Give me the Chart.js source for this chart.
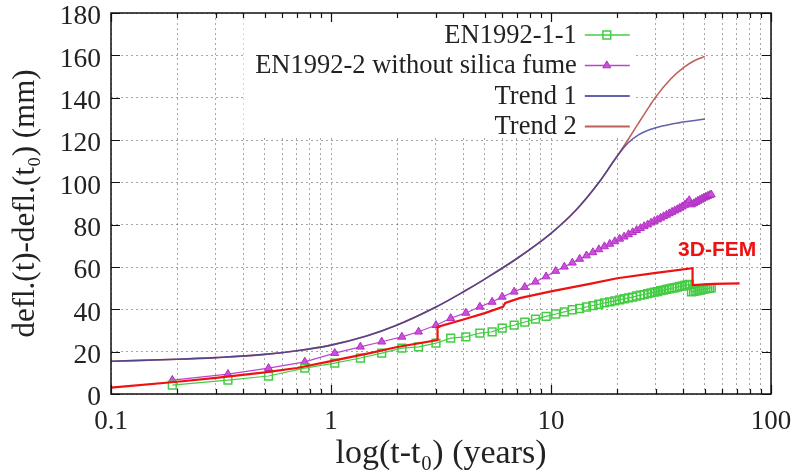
<!DOCTYPE html>
<html>
<head>
<meta charset="utf-8">
<script src="https://cdn.jsdelivr.net/npm/chart.js@4.4.1/dist/chart.umd.min.js"></script>
<style>
  html, body { margin: 0; padding: 0; background: #fff; }
</style>
</head>
<body>
<canvas id="creepChart" width="800" height="471"></canvas>
<script>
// axis ticks
const xTicks = [0.1, 0.2, 0.3, 0.4, 0.5, 0.6, 0.7, 0.8, 0.9,
                1, 2, 3, 4, 5, 6, 7, 8, 9,
                10, 20, 30, 40, 50, 60, 70, 80, 90, 100];
const xDecades = [0.1, 1, 10, 100];
const xDecadeLabels = ['0.1', '1', '10', '100'];
const yTicks = [0, 20, 40, 60, 80, 100, 120, 140, 160, 180];

// EN1992 series share the same time steps (years)
const enTimes = [0.19, 0.34, 0.52, 0.76, 1.04, 1.36, 1.7, 2.1, 2.5, 3.0, 3.5, 4.1, 4.75, 5.4, 6.0, 6.8, 7.6, 8.5, 9.5,
  10.5, 11.5, 12.5, 13.5, 14.5, 15.5, 16.5, 17.5, 18.5, 19.5, 20.5, 21.5, 22.5, 23.5, 24.5, 25.5, 26.5, 27.5, 28.5, 29.5,
  30.5, 31.5, 32.5, 33.5, 34.5, 35.5, 36.5, 37.5, 38.5, 39.5, 40.5, 41.5, 42.5, 43.5, 44.5, 45.5, 46.5, 47.5, 48.5, 49.5,
  50.5, 51.5, 52.5, 53.5];
const en1992_1_1 = [4.2, 6.6, 8.5, 12.2, 14.6, 17, 19.3, 21.7, 22.3, 24, 26.4, 27, 28.8, 29.4, 31.1, 32.5, 34, 35.4, 36.7,
  37.8, 38.8, 39.8, 40.4, 41.1, 41.8, 42.4, 43.0, 43.5, 44.0, 44.5, 45.0, 45.4, 45.8, 46.3, 46.7, 47.0, 47.4, 47.8, 48.1,
  48.4, 48.8, 49.1, 49.4, 49.7, 50.0, 50.2, 50.5, 50.8, 51.0, 51.3, 51.5, 51.8, 48.2, 48.5, 48.7, 48.9, 49.1, 49.3, 49.5,
  49.7, 49.9, 50.0, 50.2];
const en1992_2 = [6.6, 9.4, 12.2, 15.2, 19.3, 22.3, 24.7, 27, 29.4, 32.5, 35.8, 38.3, 41.2, 43.5, 45.9, 48.3, 50.5, 53, 55.5,
  58.1, 60.1, 62.0, 63.8, 65.4, 66.9, 68.3, 69.7, 70.9, 72.1, 73.3, 74.3, 75.4, 76.4, 77.4, 78.3, 79.2, 80.0, 80.9, 81.7,
  82.4, 83.2, 83.9, 84.6, 85.3, 86.0, 86.6, 87.2, 87.9, 88.5, 89.3, 90.3, 91.5, 89.5, 90.0, 90.6, 91.2, 91.7, 92.2, 92.7,
  93.1, 93.5, 93.9, 94.2];

// trend curves
const trend1Times = [0.1, 0.2, 0.3, 0.5, 0.7, 1, 1.45, 2, 3, 4, 5, 7, 10, 13, 16.5, 20, 22.5, 25, 28, 32, 38, 45, 50];
const trend1 = [15.5, 16.4, 17.2, 18.7, 20.4, 23.1, 27.4, 32.6, 41.1, 48.3, 54.3, 64, 75.9, 86.9, 99.9, 112.4,
  118.8, 122.4, 124.8, 126.6, 128.1, 129.2, 129.9];
const trend2Times = [0.1, 0.2, 0.3, 0.5, 0.7, 1, 1.45, 2, 3, 4, 5, 7, 10, 13, 16.5, 20, 22.5, 25, 28, 30, 35, 40, 45, 50];
const trend2 = [15.5, 16.4, 17.2, 18.7, 20.4, 23.1, 27.4, 32.6, 41.1, 48.3, 54.3, 64, 75.9, 86.9, 99.9, 112.4,
  120.5, 128, 135.9, 140.5, 148.8, 154.2, 157.6, 159.4];

// 3D-FEM result
const femTimes = [0.1, 0.2, 0.3, 0.5, 0.7, 1, 1.5, 2, 3.05, 3.05, 4, 5, 6.05, 6.2, 7.2, 10, 15, 20, 30, 44, 44, 55, 72];
const fem = [3, 5.8, 7.6, 10.2, 12.3, 15.5, 19.3, 22.2, 25.5, 31.7, 35.2, 38.2, 41.2, 43, 45.3, 48.5, 52, 54.7, 57.2, 59.4, 51.5, 52, 52.3];

const pairs = (xs, ys) => xs.map((x, i) => ({ x, y: ys[i] }));

const serif = "'Liberation Serif', 'Times New Roman', serif";
const textColor = '#222';

const datasets = [
  {
    label: '3D-FEM', data: pairs(femTimes, fem),
    borderColor: '#ee1111', borderWidth: 2.2, pointRadius: 0, tension: 0, order: 0, inKey: false
  },
  {
    label: 'EN1992-1-1', data: pairs(enTimes, en1992_1_1),
    borderColor: '#44cc44', borderWidth: 1.2, pointStyle: 'rect', pointRadius: 5.5,
    pointBorderColor: '#44cc44', pointBackgroundColor: 'rgba(255,255,255,0)', pointBorderWidth: 1.5, order: 1, inKey: true
  },
  {
    label: 'EN1992-2 without silica fume', data: pairs(enTimes, en1992_2),
    borderColor: '#bb44cc', borderWidth: 1.2, pointStyle: 'triangle', pointRadius: 4.6,
    pointBorderColor: '#b030c0', pointBackgroundColor: '#cc50dd', pointBorderWidth: 1, order: 2, inKey: true
  },
  {
    label: 'Trend 1', data: pairs(trend1Times, trend1),
    borderColor: 'rgba(60,60,150,0.8)', borderWidth: 1.6, pointRadius: 0, cubicInterpolationMode: 'monotone', order: 3, inKey: true
  },
  {
    label: 'Trend 2', data: pairs(trend2Times, trend2),
    borderColor: '#c0605a', borderWidth: 1.6, pointRadius: 0, cubicInterpolationMode: 'monotone', order: 4, inKey: true
  }
];

// frame, inward ticks, opaque key box and key (gnuplot look)
const gnuFrame = {
  id: 'gnuFrame',
  beforeDatasetsDraw(chart) {
    const { ctx, scales: { x, y } } = chart;
    const l = x.getPixelForValue(0.4), r = x.getPixelForValue(24);
    const t = y.getPixelForValue(180), b = y.getPixelForValue(121);
    ctx.save();
    ctx.fillStyle = '#fff';
    ctx.fillRect(l, t, r - l, b - t);
    ctx.restore();
  },
  afterDraw(chart) {
    const { ctx, chartArea: a, scales: { x, y } } = chart;
    ctx.save();
    ctx.strokeStyle = '#111';
    ctx.lineWidth = 1.2;
    ctx.beginPath();
    xTicks.forEach(v => {
      const px = Math.round(x.getPixelForValue(v)) + 0.5;
      const len = xDecades.includes(v) ? 9 : 5;
      ctx.moveTo(px, a.bottom); ctx.lineTo(px, a.bottom - len);
      ctx.moveTo(px, a.top); ctx.lineTo(px, a.top + len);
    });
    yTicks.forEach(v => {
      const py = Math.round(y.getPixelForValue(v)) + 0.5;
      ctx.moveTo(a.left, py); ctx.lineTo(a.left + 9, py);
      ctx.moveTo(a.right, py); ctx.lineTo(a.right - 9, py);
    });
    ctx.stroke();
    ctx.lineWidth = 1.5;
    ctx.strokeRect(a.left, a.top, a.right - a.left, a.bottom - a.top);

    // key, text right aligned with sample on the right
    const keyRight = x.getPixelForValue(13.1);
    let rowY = a.top + 22;
    ctx.font = '26.5px ' + serif;
    ctx.textAlign = 'right';
    ctx.textBaseline = 'middle';
    chart.data.datasets.filter(d => d.inKey).forEach(d => {
      ctx.fillStyle = textColor;
      ctx.fillText(d.label, keyRight, rowY + 1);
      ctx.strokeStyle = d.borderColor;
      ctx.lineWidth = d.borderWidth + 0.4;
      ctx.beginPath();
      ctx.moveTo(keyRight + 8, rowY); ctx.lineTo(keyRight + 53, rowY);
      ctx.stroke();
      if (d.pointRadius) {
        ctx.fillStyle = d.pointBackgroundColor;
        ctx.strokeStyle = d.pointBorderColor;
        ctx.lineWidth = d.pointBorderWidth;
        Chart.helpers.drawPoint(ctx, {
          pointStyle: d.pointStyle, radius: d.pointRadius, rotation: 0, borderWidth: d.pointBorderWidth
        }, keyRight + 30, rowY);
      }
      rowY += 30.5;
    });

    // annotation for the FEM curve
    ctx.font = "bold 21px 'Liberation Sans', Arial, sans-serif";
    ctx.textAlign = 'left';
    ctx.fillStyle = '#ee1111';
    ctx.fillText('3D-FEM', x.getPixelForValue(37.8), y.getPixelForValue(68));
    ctx.restore();
  }
};

Chart.defaults.font.family = serif;
Chart.defaults.color = textColor;

new Chart(document.getElementById('creepChart'), {
  type: 'line',
  data: { datasets },
  options: {
    responsive: false,
    animation: false,
    devicePixelRatio: 1,
    layout: { padding: { top: 13, right: 29, left: 0, bottom: 0 } },
    plugins: { legend: { display: false }, tooltip: { enabled: false } },
    scales: {
      x: {
        type: 'logarithmic', min: 0.1, max: 100,
        afterBuildTicks: s => { s.ticks = xTicks.map(v => ({ value: v })); },
        afterFit: s => { s.height = 77; s.paddingLeft = 0; s.paddingRight = 0; },
        ticks: {
          autoSkip: false, maxRotation: 0, padding: 12,
          font: { size: 27 }, color: textColor,
          callback: v => { const i = xDecades.indexOf(v); return i >= 0 ? xDecadeLabels[i] : ''; }
        },
        grid: { color: 'rgba(0,0,0,0.35)', lineWidth: 1, drawTicks: false },
        border: { display: false, dash: [2, 3] },
        title: { display: true, text: 'log(t-t₀) (years)', font: { size: 34, lineHeight: 1.0 }, color: textColor, padding: { top: 0, bottom: 0 } }
      },
      y: {
        min: 0, max: 180,
        afterBuildTicks: s => { s.ticks = yTicks.map(v => ({ value: v })); },
        afterFit: s => { s.width = 111; s.paddingTop = 0; s.paddingBottom = 0; },
        ticks: { padding: 10, labelOffset: 4, font: { size: 27.5 }, color: textColor },
        grid: { color: 'rgba(0,0,0,0.35)', lineWidth: 1, drawTicks: false },
        border: { display: false, dash: [2, 3] },
        title: { display: true, text: 'defl.(t)-defl.(t₀) (mm)', font: { size: 31, lineHeight: 1.0 }, color: textColor, padding: { top: 10, bottom: 0 } }
      }
    }
  },
  plugins: [gnuFrame]
});
</script>
</body>
</html>
